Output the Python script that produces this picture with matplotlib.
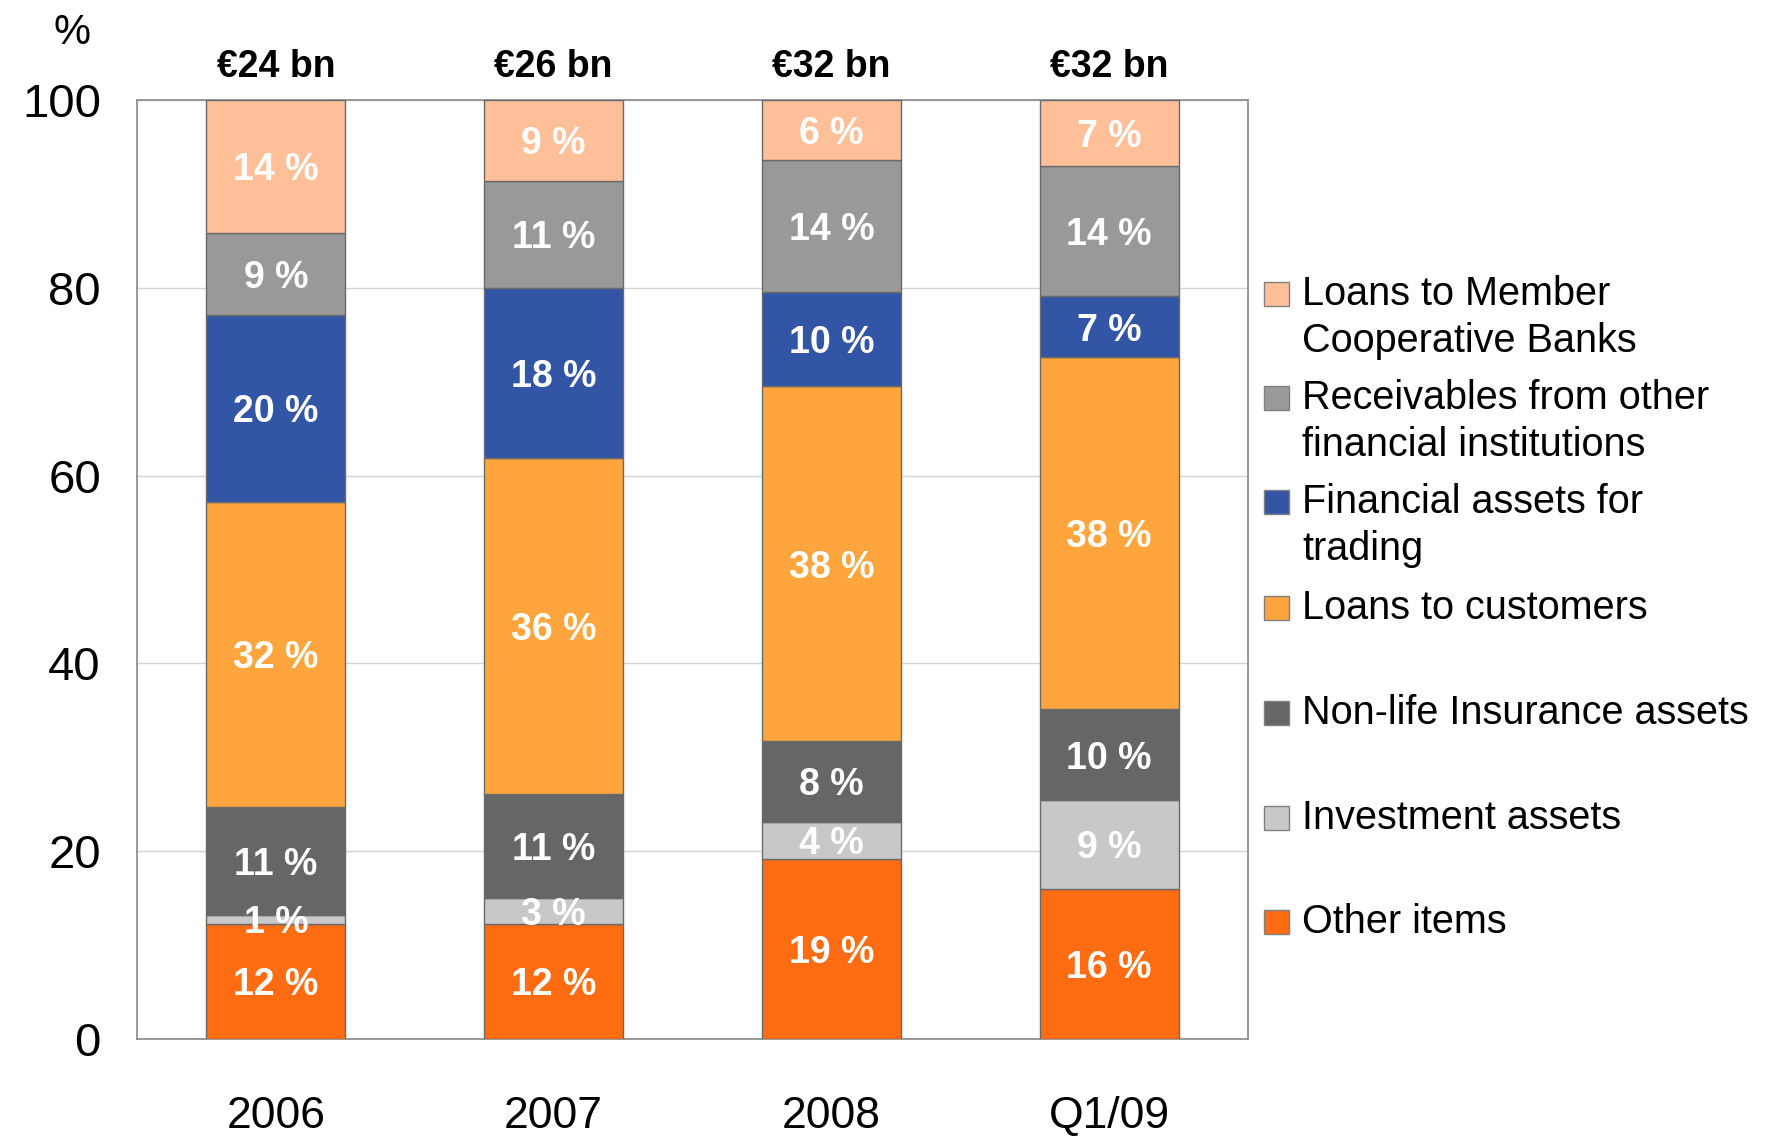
import matplotlib
matplotlib.use("Agg")
import matplotlib.pyplot as plt
from matplotlib.patches import Rectangle
import numpy as np

W, H = 1786, 1136

categories = ["2006", "2007", "2008", "Q1/09"]
totals = ["€24 bn", "€26 bn", "€32 bn", "€32 bn"]

# segment heights, bottom to top
other_items = [12.3, 12.3, 19.2, 16.0]
investment = [0.9, 2.7, 3.9, 9.4]
non_life = [11.5, 11.1, 8.6, 9.7]
loans_customers = [32.5, 35.8, 37.8, 37.5]
fin_trading = [19.9, 18.1, 10.1, 6.5]
receivables = [8.7, 11.4, 14.0, 13.9]
loans_member = [14.2, 8.6, 6.4, 7.0]

# printed labels
lbl_other = ["12 %", "12 %", "19 %", "16 %"]
lbl_invest = ["1 %", "3 %", "4 %", "9 %"]
lbl_nonlife = ["11 %", "11 %", "8 %", "10 %"]
lbl_loans = ["32 %", "36 %", "38 %", "38 %"]
lbl_fin = ["20 %", "18 %", "10 %", "7 %"]
lbl_recv = ["9 %", "11 %", "14 %", "14 %"]
lbl_member = ["14 %", "9 %", "6 %", "7 %"]

series = [
    ("Other items", other_items, lbl_other, "#FF6C12"),
    ("Investment assets", investment, lbl_invest, "#C8C8C8"),
    ("Non-life Insurance assets", non_life, lbl_nonlife, "#666666"),
    ("Loans to customers", loans_customers, lbl_loans, "#FFA53D"),
    ("Financial assets for\ntrading", fin_trading, lbl_fin, "#3355A5"),
    ("Receivables from other\nfinancial institutions", receivables, lbl_recv, "#999999"),
    ("Loans to Member\nCooperative Banks", loans_member, lbl_member, "#FFBF99"),
]

fonts = ["Liberation Sans", "DejaVu Sans"]

fig = plt.figure(figsize=(W / 100, H / 100), dpi=100)
ax = fig.add_axes([137 / W, 1 - 1039 / H, (1248 - 137) / W, (1039 - 100) / H])

x = np.arange(len(categories))
bottom = np.zeros(len(categories))
for name, vals, lbls, col in series:
    vals = np.array(vals)
    ax.bar(x, vals, 0.5, bottom=bottom, color=col, edgecolor="#6a6a6a",
           linewidth=1, zorder=3)
    for xi, b, v, t in zip(x, bottom, vals, lbls):
        ax.text(xi, b + v / 2 - 0.4, t, ha="center", va="center", color="white",
                fontsize=27, fontweight="bold", family=fonts, zorder=4)
    bottom += vals

ax.set_xlim(-0.5, 3.5)
ax.set_ylim(0, 100)
ax.set_yticks(range(0, 101, 20))
ax.set_xticks(x)
ax.set_xticklabels(categories)
ax.tick_params(axis="y", length=0, pad=26, labelsize=34)
ax.tick_params(axis="x", length=0, pad=41, labelsize=32)
for lab in ax.get_yticklabels() + ax.get_xticklabels():
    lab.set_family(fonts)
ax.grid(axis="y", color="#d4d4d4", linewidth=1, zorder=0)
for s in ax.spines.values():
    s.set_color("#888888")
    s.set_linewidth(1.2)

for xi, t in zip(x, totals):
    ax.text(xi, 101.6, t, ha="center", va="bottom", fontsize=27,
            fontweight="bold", family=fonts, clip_on=False)

fig.text(72 / W, 1 - 33 / H, "%", ha="center", va="center", fontsize=30,
         family=fonts)

# legend drawn by hand to keep the uneven line layout
legend_y = [294, 398, 502, 608, 713, 818, 922]
for (name, vals, lbls, col), cy in zip(series[::-1], legend_y):
    fig.patches.append(Rectangle((1264 / W, 1 - (cy + 12) / H), 25 / W, 24 / H,
                                 transform=fig.transFigure, facecolor=col,
                                 edgecolor="#808080", linewidth=1))
    for k, line in enumerate(name.split("\n")):
        fig.text(1302 / W, 1 - (cy + 47 * k) / H, line, ha="left",
                 va="center", fontsize=28.5, family=fonts)

fig.savefig("out.png", dpi=100)
